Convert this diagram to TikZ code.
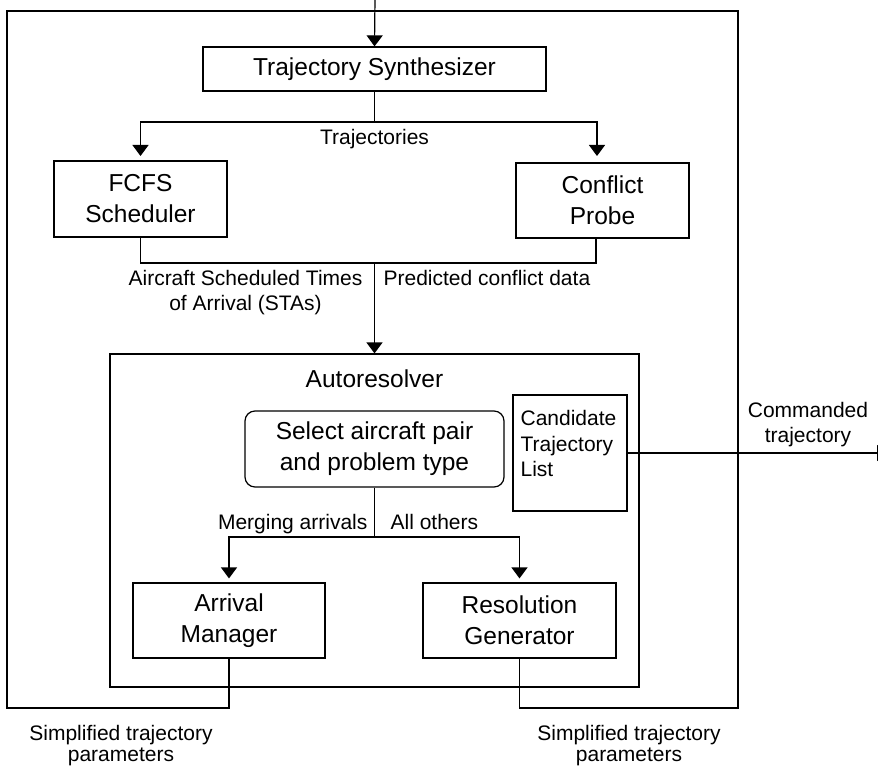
\documentclass[tikz,border=0pt]{standalone}
\usepackage{fontspec}
\setmainfont{Liberation Sans}
\usetikzlibrary{arrows.meta,calc}
\begin{document}
\begin{tikzpicture}[x=1pt,y=-1pt,
  line width=1.2pt,
  arr/.style={-{Triangle[width=16pt,length=11pt]}},
  box/.style={draw,inner sep=0pt,align=center,font=\fontsize{24.5}{31}\selectfont},
  lbl/.style={inner sep=0pt,align=center,font=\fontsize{21}{25.5}\selectfont},
  lbltight/.style={inner sep=0pt,align=center,font=\fontsize{21}{20.5}\selectfont},
]
\clip (0,0) rectangle (878,767);
\fill[white] (0,0) rectangle (878,767);
% nodes
\node[box,minimum width=343pt,minimum height=44pt] (ts) at (374.5,69) {Trajectory Synthesizer};
\node[box,minimum width=173pt,minimum height=76pt] (fcfs) at (140.5,199) {FCFS\\Scheduler};
\node[box,minimum width=173pt,minimum height=75pt] (cp) at (602.5,200.5) {Conflict\\Probe};
\node[draw,inner sep=0pt,minimum width=529pt,minimum height=333pt] (auto) at (374.5,520.5) {};
\node[inner sep=0pt,anchor=base,font=\fontsize{24.5}{31}\selectfont] (autot) at (374.5,387) {Autoresolver};
\node[box,rounded corners=10pt,minimum width=259pt,minimum height=76pt] (sel) at (374.5,449) {Select aircraft pair\\and problem type};
\node[draw,inner sep=0pt,minimum width=114pt,minimum height=116pt] (cand) at (570,453) {};
\node[lbl,align=left,anchor=north west] (candt) at (520,410) {Candidate\\Trajectory\\List};
\node[box,minimum width=192pt,minimum height=75pt] (am) at (229,620.5) {Arrival\\Manager};
\node[box,minimum width=193pt,minimum height=75pt] (rg) at (519.5,620.5) {Resolution\\Generator};
% labels
\node[lbl,anchor=base] (ltraj) at (374.5,145) {Trajectories};
\node[lbl,anchor=north east] (lsta) at (363,269.5) {Aircraft Scheduled Times\\of Arrival (STAs)};
\node[lbl,anchor=north west] (lpcd) at (383,269.5) {Predicted conflict data};
\node[lbl,anchor=north east] (lmerge) at (368,514) {Merging arrivals};
\node[lbl,anchor=north west] (lall) at (390,514) {All others};
\node[lbl,anchor=north] (lcmd) at (808,401.5) {Commanded\\trajectory};
\node[lbltight,anchor=north] (lsimp1) at (121,725) {Simplified trajectory\\parameters};
\node[lbltight,anchor=north] (lsimp2) at (629,725) {Simplified trajectory\\parameters};
% coordinates
\coordinate (top) at (375,-2);
\coordinate (j1) at (374.5,122);
\coordinate (j2) at (374.5,263);
\coordinate (j3) at (374.5,537);
\coordinate (cpin) at (597,163);
\coordinate (cpout) at (596,238);
\coordinate (fcin) at (140.5,161);
\coordinate (out) at (888,453);
\coordinate (ob1) at (229,708);
\coordinate (ob2) at (7,708);
\coordinate (ob3) at (7,11);
\coordinate (ob4) at (738,11);
\coordinate (ob5) at (738,708);
\coordinate (ob6) at (519.5,708);
% connectors
\draw[arr] (top) -- (ts.north);
\draw (ts.south) -- (j1);
\draw[arr,shorten >=5pt] (j1) -| (fcin);
\draw[arr,shorten >=7pt] (j1) -| (cpin);
\draw (fcfs.south) |- (j2);
\draw (cpout) |- (j2);
\draw[arr] (j2) -- (auto.north);
\draw (sel.south) -- (j3);
\draw[arr,shorten >=4pt] (j3) -| (am.north);
\draw[arr,shorten >=4pt] (j3) -| (rg.north);
\draw[arr] (cand.east) -- (out);
\draw (am.south) -- (ob1) -- (ob2) -- (ob3) -- (ob4) -- (ob5) -- (ob6) -- (rg.south);
\end{tikzpicture}
\end{document}
